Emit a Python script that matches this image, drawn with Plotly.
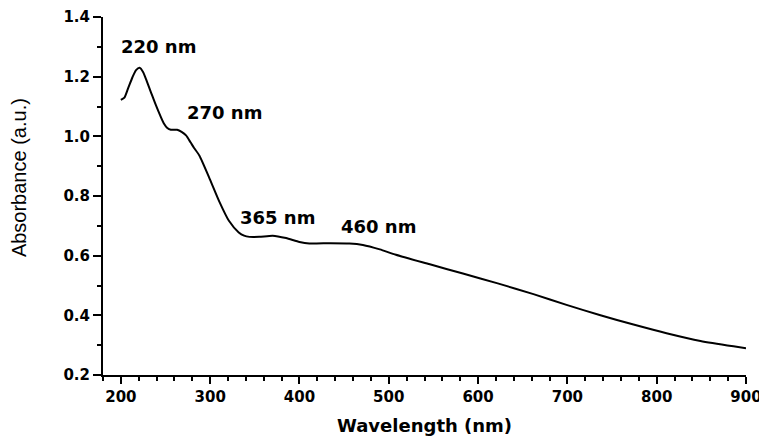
import plotly.graph_objects as go

wavelength = [200, 204, 208, 213, 217, 221, 225, 229, 234, 239, 244, 248, 252, 256, 263, 268, 273,
              278, 282, 288, 299, 310, 321, 332, 338, 344, 355, 370, 385, 400, 411, 435, 456, 471,
              490, 508, 546, 583, 622, 662, 699, 737, 774, 811, 849, 886, 900]
absorbance = [1.122, 1.13, 1.16, 1.198, 1.222, 1.23, 1.215, 1.185, 1.145, 1.106, 1.07, 1.044, 1.028,
              1.022, 1.022, 1.015, 1.003, 0.98, 0.961, 0.935, 0.861, 0.783, 0.717, 0.678, 0.667,
              0.663, 0.663, 0.667, 0.659, 0.646, 0.641, 0.642, 0.641, 0.636, 0.621, 0.603, 0.571,
              0.540, 0.507, 0.471, 0.435, 0.400, 0.369, 0.340, 0.314, 0.296, 0.290]

peak_labels = ["220 nm", "270 nm", "365 nm", "460 nm"]
peak_label_x = [242.6, 316.1, 375.5, 488.9]
peak_label_y = [1.300, 1.080, 0.728, 0.698]

x_ticks = [200, 300, 400, 500, 600, 700, 800, 900]
y_ticks = [0.2, 0.4, 0.6, 0.8, 1.0, 1.2, 1.4]

x_title = "Wavelength (nm)"
y_title = "Absorbance (a.u.)"

bold = dict(family="DejaVu Sans", size=15, color="black")

fig = go.Figure()
fig.add_trace(go.Scatter(x=wavelength, y=absorbance, mode="lines",
                         line=dict(color="black", width=2, shape="spline", smoothing=0.6),
                         showlegend=False, hoverinfo="skip"))

for t, xx, yy in zip(peak_labels, peak_label_x, peak_label_y):
    fig.add_annotation(x=xx, y=yy, text="<b>%s</b>" % t, showarrow=False,
                       xanchor="center", yanchor="middle",
                       font=dict(family="DejaVu Sans", size=18, color="black"))

fig.add_annotation(xref="paper", yref="paper", x=-0.1306, y=0.550, textangle=-90,
                   text=y_title, showarrow=False, xanchor="center", yanchor="middle",
                   font=dict(family="Liberation Sans", size=20, color="black"))
fig.add_annotation(xref="paper", yref="paper", x=0.5, y=-0.1397,
                   text="<b>%s</b>" % x_title, showarrow=False, xanchor="center", yanchor="middle",
                   font=dict(family="DejaVu Sans", size=18, color="black"))

fig.update_xaxes(range=[180, 900], tickmode="array", tickvals=x_ticks,
                 ticktext=["<b>%d</b>" % v for v in x_ticks],
                 ticks="outside", ticklen=7, tickwidth=2, tickcolor="black",
                 minor=dict(dtick=20, tick0=180, ticks="outside", ticklen=4, tickwidth=2, tickcolor="black"),
                 showline=True, linecolor="black", linewidth=2, showgrid=False, zeroline=False,
                 tickfont=bold, automargin=False, ticklabeloverflow="allow")
fig.update_yaxes(range=[0.2, 1.4], tickmode="array", tickvals=y_ticks,
                 ticktext=["<b>%.1f</b>" % v for v in y_ticks],
                 ticks="outside", ticklen=8, tickwidth=2, tickcolor="black",
                 minor=dict(dtick=0.1, tick0=0.2, ticks="outside", ticklen=4, tickwidth=2, tickcolor="black"),
                 showline=True, linecolor="black", linewidth=2, showgrid=False, zeroline=False,
                 tickfont=bold, automargin=False, ticklabeloverflow="allow")

# the page places the figure 8px in from the top-left corner, so the
# figure is sized to end at the window's edge
fig.update_layout(width=759, height=432, plot_bgcolor="white", paper_bgcolor="white",
                  margin=dict(l=95, r=21, t=9, b=65, autoexpand=False))

fig.write_html("out.html")
